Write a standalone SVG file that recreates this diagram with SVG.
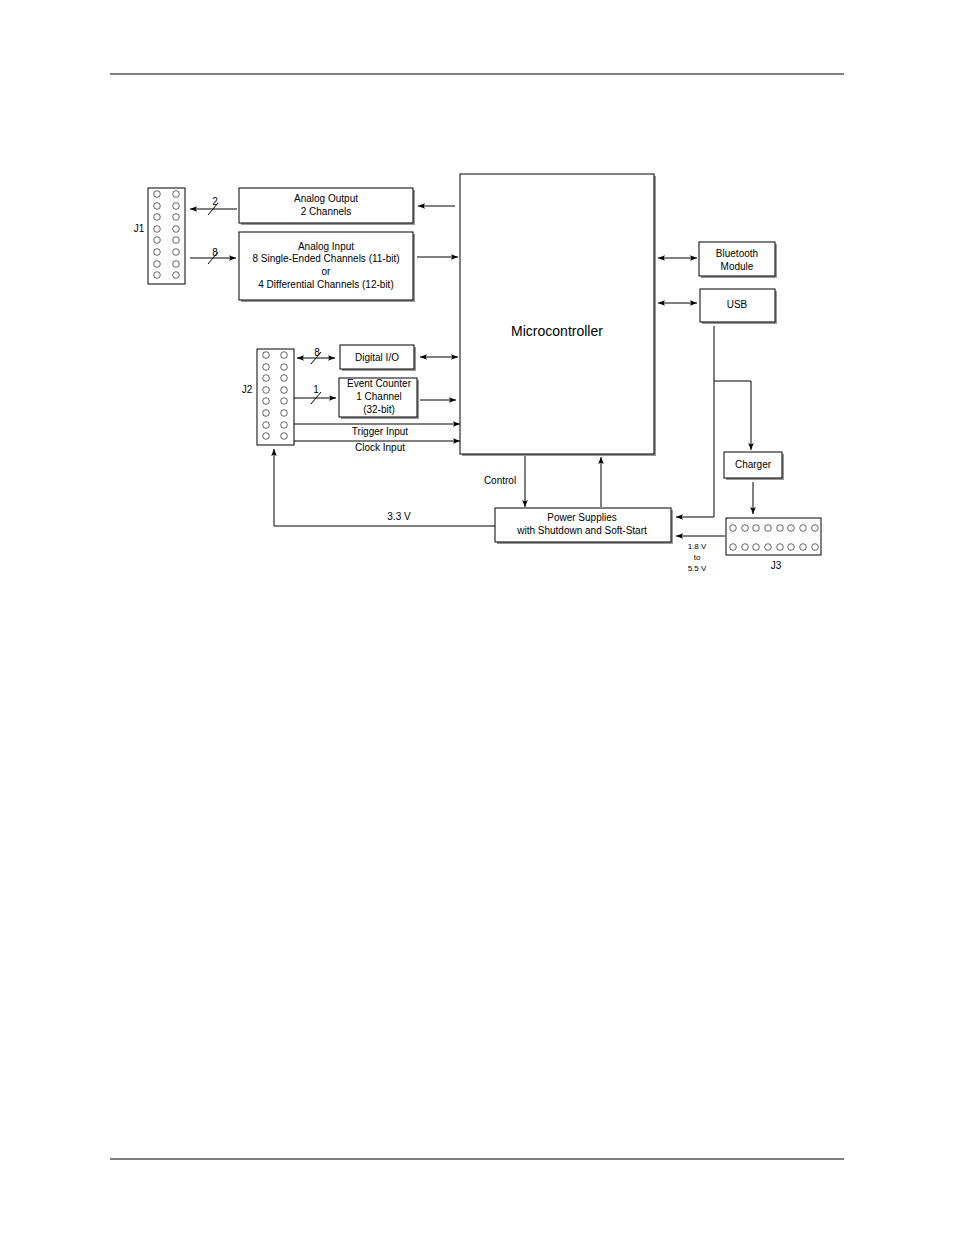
<svg xmlns="http://www.w3.org/2000/svg" width="954" height="1235" viewBox="0 0 954 1235">
<defs>
<marker id="a" viewBox="0 0 10 10" refX="10" refY="5" markerWidth="9" markerHeight="7" markerUnits="userSpaceOnUse" orient="auto-start-reverse"><path d="M0,1 L10,5 L0,9 L2,5 Z" fill="#000"/></marker>
<pattern id="p" width="18.5" height="11.6" patternUnits="userSpaceOnUse"><circle cx="4" cy="5" r="3.3" fill="none" stroke="#000" stroke-width="0.6"/></pattern>
</defs>
<style>
.b{fill:#fff;stroke:#000;stroke-width:1}
.s{fill:#999}
text{font-family:"Liberation Sans",Arial,sans-serif;font-size:10px;text-anchor:middle;fill:#000}
.c{fill:none;stroke:#000;stroke-width:1}
.pin{fill:none;stroke:#000;stroke-width:0.6}
</style>
<rect width="954" height="1235" fill="#fff"/>
<line x1="110" y1="74" x2="844" y2="74" stroke="#000"/>
<line x1="110" y1="1159" x2="844" y2="1159" stroke="#000"/>

<g id="J1"><rect class="b" x="148" y="188" width="37" height="96"/>
<g class="pin"><circle cx="157" cy="194" r="3.3"/><circle cx="176" cy="194" r="3.3"/><circle cx="157" cy="206" r="3.3"/><circle cx="176" cy="206" r="3.3"/><circle cx="157" cy="217" r="3.3"/><circle cx="176" cy="217" r="3.3"/><circle cx="157" cy="229" r="3.3"/><circle cx="176" cy="229" r="3.3"/><circle cx="157" cy="240" r="3.3"/><circle cx="176" cy="240" r="3.3"/><circle cx="157" cy="252" r="3.3"/><circle cx="176" cy="252" r="3.3"/><circle cx="157" cy="264" r="3.3"/><circle cx="176" cy="264" r="3.3"/><circle cx="157" cy="275" r="3.3"/><circle cx="176" cy="275" r="3.3"/></g>
<text x="139" y="232">J1</text></g>

<g id="J2"><rect class="b" x="257" y="349" width="37" height="96"/>
<g class="pin"><circle cx="266" cy="355" r="3.3"/><circle cx="284" cy="355" r="3.3"/><circle cx="266" cy="367" r="3.3"/><circle cx="284" cy="367" r="3.3"/><circle cx="266" cy="378" r="3.3"/><circle cx="284" cy="378" r="3.3"/><circle cx="266" cy="390" r="3.3"/><circle cx="284" cy="390" r="3.3"/><circle cx="266" cy="401" r="3.3"/><circle cx="284" cy="401" r="3.3"/><circle cx="266" cy="413" r="3.3"/><circle cx="284" cy="413" r="3.3"/><circle cx="266" cy="425" r="3.3"/><circle cx="284" cy="425" r="3.3"/><circle cx="266" cy="436" r="3.3"/><circle cx="284" cy="436" r="3.3"/></g>
<text x="247" y="393">J2</text></g>

<g id="J3"><rect class="b" x="726" y="518" width="95" height="37"/>
<g class="pin"><circle cx="733" cy="528" r="3.3"/><circle cx="745" cy="528" r="3.3"/><circle cx="756" cy="528" r="3.3"/><circle cx="768" cy="528" r="3.3"/><circle cx="780" cy="528" r="3.3"/><circle cx="791" cy="528" r="3.3"/><circle cx="803" cy="528" r="3.3"/><circle cx="815" cy="528" r="3.3"/><circle cx="733" cy="547" r="3.3"/><circle cx="745" cy="547" r="3.3"/><circle cx="756" cy="547" r="3.3"/><circle cx="768" cy="547" r="3.3"/><circle cx="780" cy="547" r="3.3"/><circle cx="791" cy="547" r="3.3"/><circle cx="803" cy="547" r="3.3"/><circle cx="815" cy="547" r="3.3"/></g>
<text x="776" y="569">J3</text></g>

<g id="ao"><rect class="s" x="241" y="190" width="174" height="35"/><rect class="b" x="239" y="188" width="174" height="35"/><text x="326" y="202">Analog Output</text><text x="326" y="215">2 Channels</text></g>
<g id="ai"><rect class="s" x="241" y="234" width="174" height="68"/><rect class="b" x="239" y="232" width="174" height="68"/><text x="326" y="250">Analog Input</text><text x="326" y="262">8 Single-Ended Channels (11-bit)</text><text x="326" y="275">or</text><text x="326" y="288">4 Differential Channels (12-bit)</text></g>
<g id="mc"><rect class="s" x="462" y="176" width="194" height="280"/><rect class="b" x="460" y="174" width="194" height="280"/><text x="557" y="336" style="font-size:14px">Microcontroller</text></g>
<g id="bt"><rect class="s" x="701" y="244" width="76" height="34"/><rect class="b" x="699" y="242" width="76" height="34"/><text x="737" y="257">Bluetooth</text><text x="737" y="270">Module</text></g>
<g id="usb"><rect class="s" x="702" y="291" width="75" height="33"/><rect class="b" x="700" y="289" width="75" height="33"/><text x="737" y="308">USB</text></g>
<g id="dio"><rect class="s" x="342" y="347" width="74" height="24"/><rect class="b" x="340" y="345" width="74" height="24"/><text x="377" y="361">Digital I/O</text></g>
<g id="ec"><rect class="s" x="341" y="380" width="78" height="39"/><rect class="b" x="339" y="378" width="78" height="39"/><text x="379" y="387">Event Counter</text><text x="379" y="400">1 Channel</text><text x="379" y="413">(32-bit)</text></g>
<g id="ch"><rect class="s" x="726" y="454" width="58" height="26"/><rect class="b" x="724" y="452" width="58" height="26"/><text x="753" y="468">Charger</text></g>
<g id="ps"><rect class="s" x="497" y="510" width="176" height="34"/><rect class="b" x="495" y="508" width="176" height="34"/><text x="582" y="521">Power Supplies</text><text x="582" y="534">with Shutdown and Soft-Start</text></g>

<g id="connectors" class="c">
<line x1="455" y1="206" x2="418" y2="206" marker-end="url(#a)"/>
<line x1="237" y1="209" x2="190" y2="209" marker-end="url(#a)"/>
<line x1="208" y1="215" x2="218" y2="203"/>
<line x1="190" y1="258" x2="236" y2="258" marker-end="url(#a)"/>
<line x1="208" y1="264" x2="218" y2="252"/>
<line x1="417" y1="257" x2="458" y2="257" marker-end="url(#a)"/>
<line x1="297" y1="358" x2="335" y2="358" marker-start="url(#a)" marker-end="url(#a)"/>
<line x1="311" y1="364" x2="321" y2="352"/>
<line x1="420" y1="357" x2="458" y2="357" marker-start="url(#a)" marker-end="url(#a)"/>
<line x1="294" y1="398" x2="336" y2="398" marker-end="url(#a)"/>
<line x1="311" y1="404" x2="321" y2="392"/>
<line x1="420" y1="400" x2="456" y2="400" marker-end="url(#a)"/>
<line x1="294" y1="424" x2="460" y2="424" marker-end="url(#a)"/>
<line x1="294" y1="441" x2="460" y2="441" marker-end="url(#a)"/>
<line x1="658" y1="258" x2="697" y2="258" marker-start="url(#a)" marker-end="url(#a)"/>
<line x1="658" y1="303" x2="697" y2="303" marker-start="url(#a)" marker-end="url(#a)"/>
<polyline points="714,326 714,517 676,517" marker-end="url(#a)"/>
<polyline points="714,381 751,381 751,450" marker-end="url(#a)"/>
<line x1="753" y1="482" x2="753" y2="514" marker-end="url(#a)"/>
<line x1="725" y1="536" x2="676" y2="536" marker-end="url(#a)"/>
<line x1="525" y1="456" x2="525" y2="507" marker-end="url(#a)"/>
<line x1="601" y1="507" x2="601" y2="457" marker-end="url(#a)"/>
<polyline points="495,526 274,526 274,449" marker-end="url(#a)"/>
</g>
<g id="labels">
<text x="215" y="205">2</text><text x="215" y="256">8</text><text x="317" y="356">8</text><text x="316" y="393">1</text>
<text x="380" y="435">Trigger Input</text><text x="380" y="451">Clock Input</text>
<text x="500" y="484">Control</text><text x="399" y="520">3.3 V</text>
<text x="697" y="549" style="font-size:8px">1.8 V</text><text x="697" y="560" style="font-size:8px">to</text><text x="697" y="571" style="font-size:8px">5.5 V</text>
</g>
</svg>
